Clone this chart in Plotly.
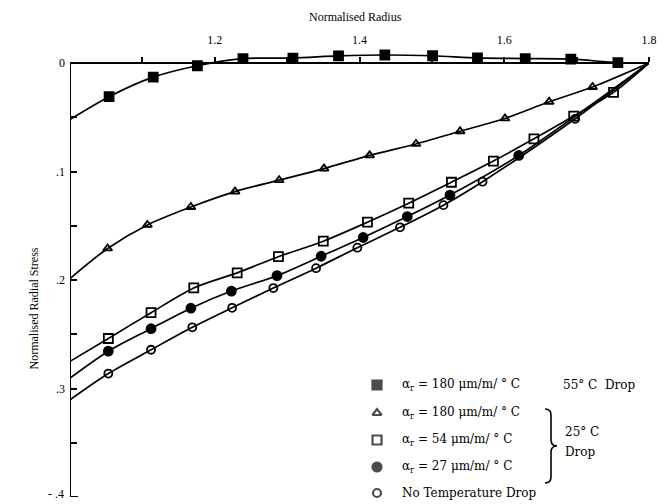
import plotly.graph_objects as go

# curves (first/last points are line ends, no marker)
sq55_x = [1.0, 1.054, 1.115, 1.176, 1.239, 1.308, 1.371, 1.435, 1.501, 1.563, 1.629, 1.692, 1.757, 1.8]
sq55_y = [-0.052, -0.031, -0.013, -0.0025, 0.004, 0.0046, 0.0065, 0.0074, 0.0067, 0.0047, 0.0041, 0.0035, 0.0004, 0.0]

tri_x = [1.0, 1.052, 1.107, 1.167, 1.228, 1.289, 1.351, 1.414, 1.478, 1.539, 1.601, 1.662, 1.722, 1.8]
tri_y = [-0.1986, -0.1709, -0.1492, -0.1327, -0.1185, -0.108, -0.0973, -0.0851, -0.0746, -0.0629, -0.0511, -0.0357, -0.0221, 0.0]

osq_x = [1.0, 1.053, 1.112, 1.171, 1.231, 1.288, 1.350, 1.411, 1.468, 1.527, 1.585, 1.641, 1.696, 1.751, 1.8]
osq_y = [-0.275, -0.2539, -0.2301, -0.2073, -0.1934, -0.1785, -0.1642, -0.1467, -0.1292, -0.1099, -0.0904, -0.0699, -0.0489, -0.027, 0.0]

fci_x = [1.0, 1.053, 1.112, 1.167, 1.223, 1.286, 1.347, 1.405, 1.466, 1.525, 1.620, 1.8]
fci_y = [-0.2904, -0.2656, -0.2449, -0.226, -0.2102, -0.196, -0.1781, -0.1608, -0.1415, -0.1217, -0.0852, 0.0]

oci_x = [1.0, 1.053, 1.112, 1.169, 1.224, 1.281, 1.340, 1.397, 1.456, 1.516, 1.570, 1.698, 1.8]
oci_y = [-0.3104, -0.2862, -0.2643, -0.2436, -0.2256, -0.2074, -0.1891, -0.1702, -0.1514, -0.131, -0.1094, -0.0514, 0.0]

legend_labels = ["α<sub>r</sub> = 180 μm/m/ ° C", "α<sub>r</sub> = 180 μm/m/ ° C",
                 "α<sub>r</sub> = 54 μm/m/ ° C", "α<sub>r</sub> = 27 μm/m/ ° C",
                 "No Temperature Drop"]
symbols = ["square", "triangle-up-open", "square-open", "circle", "circle-open"]
sizes = [9, 8, 9, 9, 8]

y_ticks = [0, -0.05, -0.1, -0.15, -0.2, -0.25, -0.3, -0.35, -0.4]
y_text = ["0", "", ".1", "", ".2", "", ".3", "", ""]
x_ticks = [1.1, 1.2, 1.3, 1.4, 1.5, 1.6, 1.7, 1.8]
x_text = ["", "1.2", "", "1.4", "", "1.6", "", "1.8"]

SERIF = "Liberation Serif"
LEG = "DejaVu Serif"


# pixel -> data helpers for placing the legend block
def px_x(p):
    return 1.0 + (p - 70) / 723.75


def px_y(p):
    return -(p - 63) / 1085.0


fig = go.Figure()
series = [(sq55_x, sq55_y), (tri_x, tri_y), (osq_x, osq_y), (fci_x, fci_y), (oci_x, oci_y)]
for (xs, ys), sym, sz in zip(series, symbols, sizes):
    fig.add_trace(go.Scatter(x=xs, y=ys, mode="lines", line=dict(color="black", width=1.7, shape="spline", smoothing=0.8),
                             showlegend=False, hoverinfo="skip"))
    fig.add_trace(go.Scatter(x=xs[1:-1], y=ys[1:-1], mode="markers", cliponaxis=False, showlegend=False,
                             marker=dict(symbol=sym, size=sz, color="black", line=dict(color="black", width=1.8))))

# legend block
rows = [385, 413, 440, 467, 493]
fig.add_trace(go.Scatter(x=[px_x(377)] * 5, y=[px_y(r) for r in rows], mode="markers", cliponaxis=False,
                         showlegend=False, hoverinfo="skip",
                         marker=dict(symbol=symbols, size=sizes, color="black", line=dict(color="black", width=2.2))))
for lab, r in zip(legend_labels, rows):
    fig.add_annotation(x=px_x(400), y=px_y(r), text=lab, showarrow=False, xanchor="left", yanchor="middle",
                       font=dict(family=LEG, size=12, color="black"))
fig.add_annotation(x=px_x(561), y=px_y(rows[0]), text="55° C  Drop", showarrow=False, xanchor="left",
                   font=dict(family=LEG, size=12, color="black"))
fig.add_annotation(x=px_x(563), y=px_y(432), text="25° C", showarrow=False, xanchor="left",
                   font=dict(family=LEG, size=12, color="black"))
fig.add_annotation(x=px_x(563), y=px_y(452), text="Drop", showarrow=False, xanchor="left",
                   font=dict(family=LEG, size=12, color="black"))

# brace
bx = [545, 551, 551, 557, 551, 551, 545]
by = [409, 415, 440, 446, 452, 477, 483]
p = [(px_x(a), px_y(b)) for a, b in zip(bx, by)]
path = (f"M {p[0][0]},{p[0][1]} Q {p[1][0]},{p[0][1]} {p[1][0]},{p[1][1]} L {p[2][0]},{p[2][1]} "
        f"Q {p[2][0]},{p[3][1]} {p[3][0]},{p[3][1]} Q {p[4][0]},{p[3][1]} {p[4][0]},{p[4][1]} "
        f"L {p[5][0]},{p[5][1]} Q {p[5][0]},{p[6][1]} {p[6][0]},{p[6][1]}")
fig.add_shape(type="path", path=path, xref="x", yref="y", line=dict(color="black", width=1.6))

# left axis line only between 0 and -0.4
fig.add_shape(type="line", x0=1.0, x1=1.0, y0=-0.4, y1=0, xref="x", yref="y", line=dict(color="black", width=2))
# bottom stub
fig.add_shape(type="line", x0=1.0, x1=px_x(78), y0=-0.4, y1=-0.4, xref="x", yref="y", line=dict(color="black", width=2))

# bottom tick label, nudged up so it stays inside the page
fig.add_annotation(x=1.0, y=-0.4, xref="x", yref="y", xanchor="right", yanchor="middle", xshift=-4, yshift=3,
                   text="- .4", showarrow=False, font=dict(family=SERIF, size=12, color="black"))

fig.add_annotation(x=0.5, y=1, xref="paper", yref="paper", xshift=-4, yshift=33, yanchor="middle",
                   text="Normalised Radius", showarrow=False, font=dict(family=SERIF, size=12, color="black"))
fig.add_annotation(x=0, y=0.5, xref="paper", yref="paper", xshift=-37, yshift=-35, xanchor="center",
                   yanchor="middle", text="Normalised Radial Stress", showarrow=False, textangle=-90,
                   font=dict(family=SERIF, size=12, color="black"))

fig.update_layout(
    width=667, height=504,
    margin=dict(l=70, r=18, t=50, b=7),
    paper_bgcolor="white", plot_bgcolor="white",
    xaxis=dict(range=[1.0, 1.8], side="top", anchor="free", position=0.4 / 0.412, automargin=False,
               showline=True, linecolor="black", linewidth=2, showgrid=False, zeroline=False,
               tickmode="array", tickvals=x_ticks, ticktext=x_text, ticks="outside", ticklen=5,
               tickcolor="black", tickwidth=1.5, ticklabelstandoff=8,
               tickfont=dict(family=SERIF, size=12, color="black")),
    yaxis=dict(range=[-0.4, 0.012], showline=False, showgrid=False, zeroline=False, automargin=False,
               tickmode="array", tickvals=y_ticks, ticktext=y_text, ticks="inside", ticklen=7,
               tickcolor="black", tickwidth=1.5, ticklabelstandoff=4, ticklabeloverflow="allow",
               tickfont=dict(family=SERIF, size=12, color="black")),
)

fig.write_html("out.html", config={"displayModeBar": False},
               post_script="document.body.style.margin='0';")
